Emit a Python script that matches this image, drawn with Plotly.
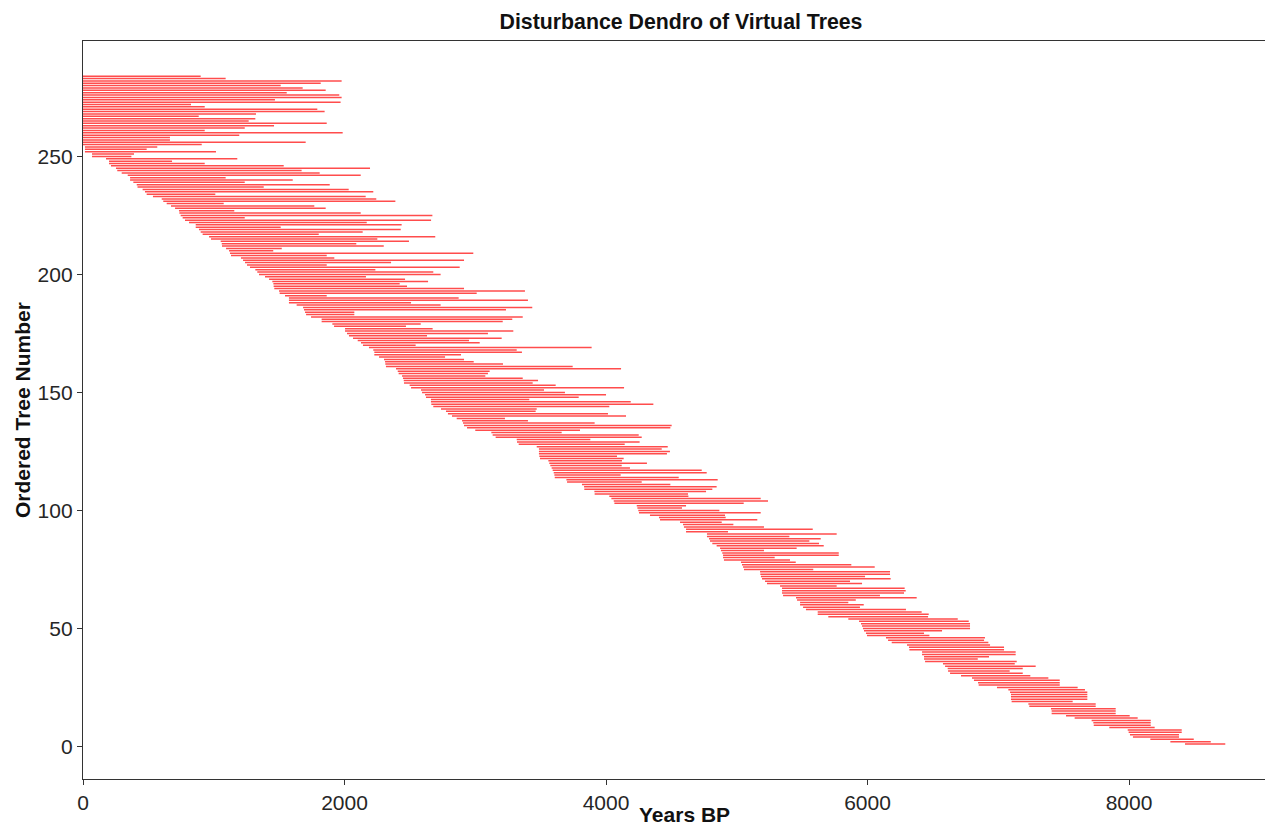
import plotly.graph_objects as go

# Tree numbers (top of chart downward) with start / end years BP
tree_number = list(range(284, 0, -1))

start_years = [
    0, 0, 0, 0, 0, 0, 0, 0, 0, 0, 0, 0, 0, 0, 0, 0, 0, 0, 0, 0,
    0, 0, 0, 0, 0, 0, 0, 0, 0, 0, 15, 15, 15, 69, 69, 176, 199, 199, 214, 252,
    262, 296, 342, 360, 360, 385, 411, 417, 456, 474, 487, 535, 602, 614, 640, 673, 704, 734, 737, 747,
    762, 780, 811, 862, 862, 887, 900, 915, 964, 979, 1053, 1061, 1063, 1094, 1117, 1124, 1132, 1208, 1224, 1239,
    1254, 1277, 1318, 1333, 1346, 1392, 1423, 1448, 1456, 1458, 1463, 1499, 1504, 1545, 1575, 1575, 1575, 1634, 1683, 1690,
    1698, 1706, 1744, 1825, 1825, 1907, 1920, 2004, 2004, 2019, 2034, 2065, 2101, 2126, 2141, 2187, 2220, 2228, 2228, 2264,
    2302, 2310, 2312, 2317, 2394, 2407, 2414, 2440, 2447, 2453, 2455, 2498, 2509, 2585, 2593, 2616, 2623, 2661, 2661, 2664,
    2679, 2738, 2776, 2791, 2822, 2858, 2899, 2906, 2914, 2937, 3000, 3123, 3133, 3156, 3317, 3319, 3332, 3470, 3487, 3487,
    3487, 3490, 3495, 3559, 3566, 3574, 3584, 3592, 3600, 3605, 3608, 3697, 3702, 3816, 3832, 3834, 3911, 3913, 4025, 4041,
    4059, 4064, 4235, 4240, 4247, 4252, 4336, 4405, 4413, 4566, 4589, 4596, 4612, 4612, 4772, 4772, 4788, 4795, 4813, 4846,
    4872, 4879, 4889, 4895, 4895, 4902, 5032, 5040, 5048, 5055, 5178, 5180, 5185, 5193, 5216, 5231, 5331, 5346, 5346, 5346,
    5354, 5453, 5461, 5484, 5484, 5507, 5529, 5619, 5619, 5700, 5853, 5935, 5950, 5958, 5965, 5973, 5988, 5996, 6141, 6157,
    6185, 6302, 6317, 6320, 6417, 6417, 6432, 6432, 6440, 6577, 6593, 6613, 6616, 6631, 6715, 6799, 6814, 6845, 6850, 6990,
    7077, 7090, 7097, 7097, 7097, 7102, 7230, 7237, 7403, 7408, 7408, 7518, 7584, 7714, 7727, 7730, 7849, 7990, 7997, 8007,
    8030, 8163, 8316, 8428,
]

end_years = [
    900, 1091, 1978, 1818, 1512, 1680, 1856, 1558, 1960, 1978, 1468, 1970, 826, 931, 1792, 1848, 1323, 885, 1318, 1267,
    1864, 1461, 1237, 931, 1986, 1195, 665, 665, 1703, 908, 568, 487, 1017, 390, 370, 1180, 681, 931, 1535, 2195,
    1672, 1810, 2124, 1091, 1604, 1237, 1887, 1382, 2032, 2220, 1012, 2162, 2243, 2389, 1076, 1769, 1856, 1157, 2124, 2672,
    1237, 2662, 2170, 2437, 1512, 2430, 2139, 1803, 2694, 2251, 2493, 2090, 2300, 1520, 1455, 2985, 1864, 1922, 2914, 2356,
    1864, 2881, 2236, 2679, 2735, 2164, 2463, 2639, 2422, 2478, 2914, 3380, 3011, 1864, 2873, 3403, 2509, 2735, 3436, 3235,
    2075, 2075, 3363, 3283, 3210, 2583, 2470, 2674, 3291, 3097, 2631, 3202, 2952, 3034, 2544, 3890, 3317, 3357, 2891, 2769,
    2914, 2988, 3212, 3745, 4115, 3110, 3097, 3077, 3363, 3480, 3439, 3615, 4138, 3526, 3686, 4000, 3791, 3413, 4189, 4362,
    4025, 3470, 3462, 4015, 4153, 3227, 3403, 3913, 4502, 4492, 3801, 3661, 4250, 4273, 3880, 4257, 4143, 4472, 4426, 4489,
    4466, 4084, 4135, 4122, 4313, 4120, 4183, 4732, 4770, 4112, 4556, 4854, 4273, 4492, 4846, 4813, 4765, 4627, 4630, 5183,
    5239, 5053, 4612, 4581, 4867, 5183, 4910, 4915, 5157, 4885, 4974, 5208, 5581, 4933, 5764, 5402, 5642, 5555, 5629, 5665,
    5458, 5208, 5780, 5780, 5290, 5407, 5451, 5876, 6055, 5585, 6172, 6172, 5981, 6177, 5866, 5958, 5764, 6284, 6292, 6279,
    6095, 6376, 5910, 5853, 5971, 5942, 6294, 6414, 6468, 6463, 6690, 6774, 6784, 6784, 6784, 6570, 6432, 6473, 6898, 6891,
    6924, 6937, 7044, 7044, 7133, 7133, 6929, 6843, 7141, 7126, 7286, 7187, 7087, 7187, 7245, 7383, 7470, 7470, 7470, 7607,
    7663, 7681, 7681, 7681, 7681, 7569, 7745, 7745, 7898, 7898, 7898, 8005, 8066, 8166, 8166, 8166, 8196, 8403, 8403, 8382,
    8382, 8495, 8625, 8736,
]

x_ticks = [0, 2000, 4000, 6000, 8000]
y_ticks = [0, 50, 100, 150, 200, 250]

xs, ys = [], []
for t, s, e in zip(tree_number, start_years, end_years):
    xs += [s, e, None]
    ys += [t, t, None]

fig = go.Figure()
fig.add_trace(go.Scatter(
    x=xs, y=ys, mode="lines",
    line=dict(color="rgba(255,0,0,0.7)", width=1.5),
    hoverinfo="skip", showlegend=False,
))

# The page body adds an 8px offset, so the figure is sized to fill the window from there.
OFF = 8
W, H = 1273 - OFF, 825 - OFF
pl, pr, pt, pb = 83 - OFF, 0, 41 - OFF, 46
pw, ph = W - pl - pr, H - pt - pb

font_family = "Arial, Liberation Sans, sans-serif"
fig.update_layout(
    width=W, height=H,
    margin=dict(l=pl, r=pr, t=pt, b=pb, autoexpand=False),
    plot_bgcolor="white", paper_bgcolor="white",
    font=dict(family=font_family, color="#262626"),
    title=dict(text="<b>Disturbance Dendro of Virtual Trees</b>",
               x=(681 - OFF) / W, xref="container", xanchor="center",
               y=1 - (22 - OFF) / H, yref="container", yanchor="middle",
               font=dict(size=21.3, family=font_family, color="#111")),
    xaxis=dict(
        range=[0, 9101], tickvals=x_ticks, ticktext=[str(v) for v in x_ticks],
        showline=True, linecolor="#333", linewidth=1.3, mirror=True,
        ticks="outside", ticklen=5, tickcolor="#333", showgrid=False, zeroline=False,
        tickfont=dict(size=21), automargin=False,
    ),
    yaxis=dict(
        range=[-13.8, 298.9], tickvals=y_ticks,
        showline=True, linecolor="#333", linewidth=1.3, mirror=False,
        ticks="outside", ticklen=5, tickcolor="#333", showgrid=False, zeroline=False,
        tickfont=dict(size=21), automargin=False,
    ),
    annotations=[
        dict(text="<b>Years BP</b>", x=(684 - 83) / pw, y=(825 - 814 - pb) / ph,
             xref="paper", yref="paper", borderpad=0,
             xanchor="center", yanchor="middle", showarrow=False,
             font=dict(size=21, color="#111")),
        dict(text="<b>Ordered Tree Number</b>", x=(22 - 83) / pw, y=(825 - 410 - pb) / ph,
             xref="paper", yref="paper", xanchor="center", yanchor="middle",
             textangle=-90, showarrow=False, font=dict(size=21, color="#111")),
    ],
)

fig.write_html("out.html")
